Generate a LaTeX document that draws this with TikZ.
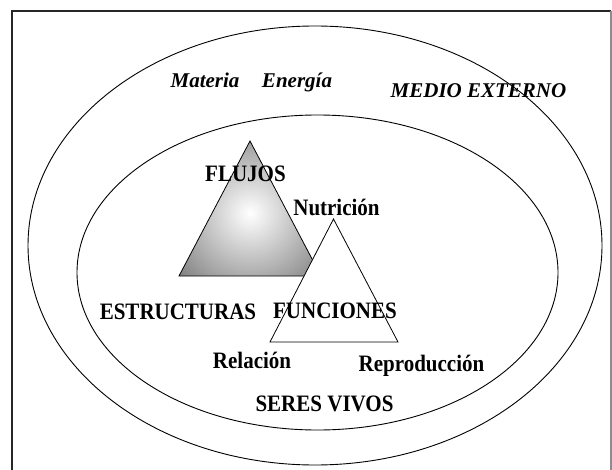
\documentclass[tikz,border=0pt]{standalone}
\usepackage{fontspec}
\setmainfont{Liberation Serif}
\newcommand{\tallbox}[1]{\scalebox{1}[1.12]{#1}}
\begin{document}
\begin{tikzpicture}[x=1pt,y=-1pt,
  lbl/.style={anchor=base,inner sep=0pt,font=\fontsize{21}{25}\selectfont\bfseries},
  ilbl/.style={lbl,font=\fontsize{21}{25}\selectfont\bfseries\itshape},
  ring/.style={draw=black,line width=0.9pt},
  tri/.style={draw=black,line width=0.8pt}]
\useasboundingbox (0,0) rectangle (612,470);
% frame
\draw[line width=1.6pt,black!85] (12,472) -- (12,11) -- (611,11);
\draw[line width=1.2pt,black!45] (611,11) -- (611,472);
% ellipses
\draw[ring] (315,245.5) ellipse [x radius=287, y radius=219.5];
\draw[ring] (317.5,272.5) ellipse [x radius=240.5, y radius=157.5];
% shaded triangle
\begin{scope}
  \clip (250,141) -- (321,276) -- (179,276) -- cycle;
  \shade[inner color=white,outer color=black!55] (250,213) circle [radius=105];
\end{scope}
\draw[tri] (250,141) -- (321,276) -- (179,276) -- cycle;
% white triangle
\draw[tri,fill=white] (333.5,219) -- (398,342) -- (270,342) -- cycle;
% labels
\node[ilbl] (materia) at (205,88) {Materia};
\node[ilbl] (energia) at (297,88) {Energía};
\node[ilbl] (medio) at (478.5,98) {MEDIO EXTERNO};
\node[lbl] (flujos) at (245.5,182) {\tallbox{FLUJOS}};
\node[lbl] (nutricion) at (336.5,215) {\tallbox{Nutrición}};
\node[lbl] (estructuras) at (178,319) {\tallbox{ESTRUCTURAS}};
\node[lbl] (funciones) at (335,318) {\tallbox{FUNCIONES}};
\node[lbl] (relacion) at (252,368) {\tallbox{Relación}};
\node[lbl] (reproduccion) at (421.5,371) {\tallbox{Reproducción}};
\node[lbl] (seres) at (324.5,411) {\tallbox{SERES VIVOS}};
\end{tikzpicture}
\end{document}
